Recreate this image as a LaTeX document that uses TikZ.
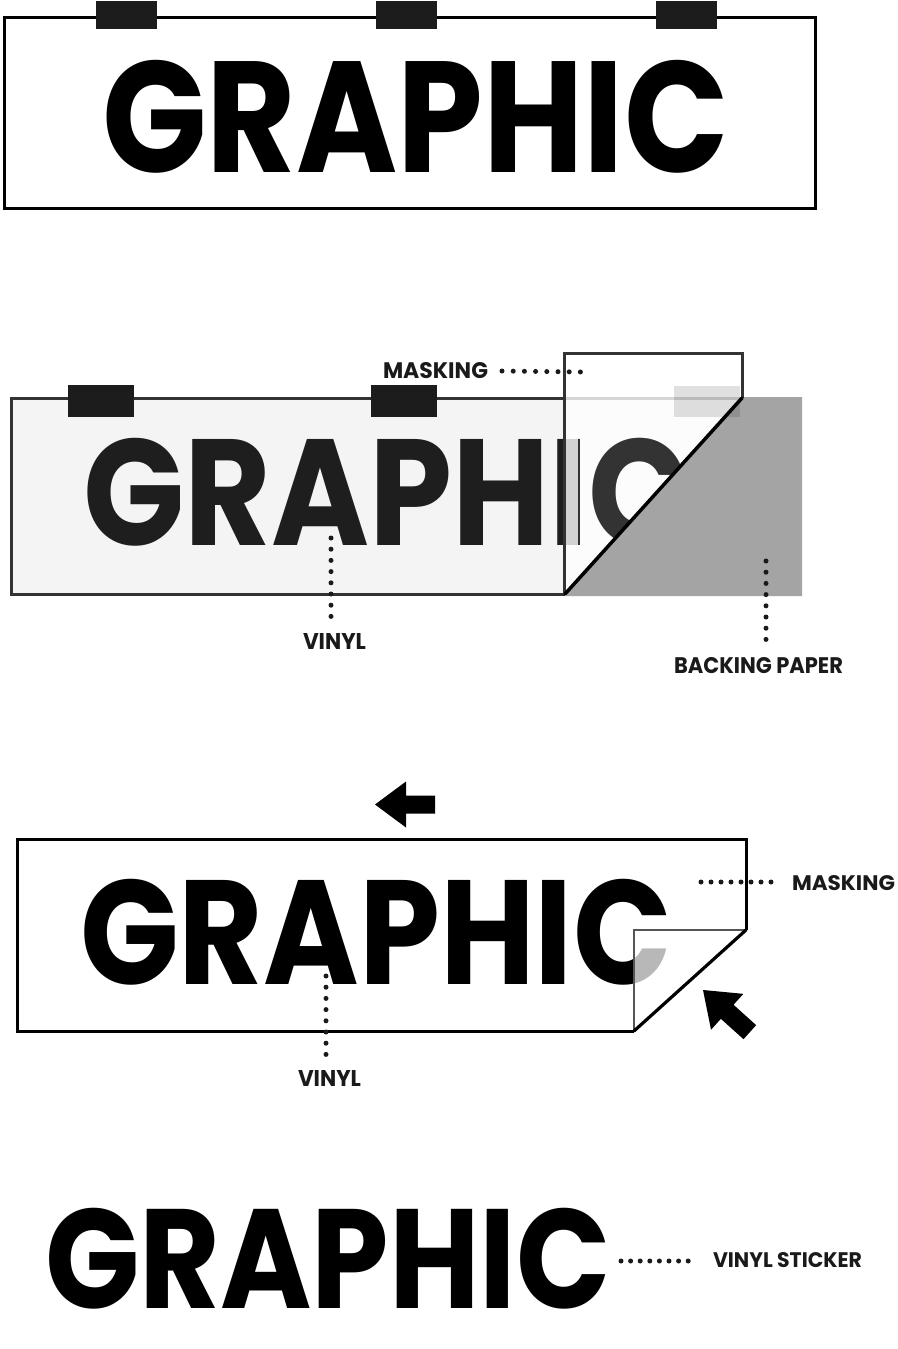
\documentclass[tikz,border=0pt]{standalone}
\usepackage{fontspec}
\setmainfont{Poppins}
\usepackage{graphicx}
\definecolor{clipc}{HTML}{1C1C1C}
\definecolor{vinylfill}{HTML}{F4F4F4}
\definecolor{edgetwo}{HTML}{333333}
\definecolor{backc}{HTML}{A4A4A4}
\definecolor{txttwo}{HTML}{1E1E1E}
\definecolor{cdark}{HTML}{333333}
\definecolor{foldedge}{HTML}{555555}
\definecolor{lbltxt}{HTML}{1A1A1A}
\newcommand\bigword[2]{\resizebox*{#1}{#2}{\bfseries GRAPHIC}}
\newcommand\lbltext[3]{\resizebox{#1}{#2}{\bfseries #3}}
\tikzset{
  every node/.style={inner sep=0pt, outer sep=0pt},
  dotline/.style={line width=5pt, line cap=round, dash pattern=on 0pt off #1, draw=lbltxt},
  dotline/.default=11.2pt,
  frame/.style={line width=3pt, line join=miter},
  clipbox/.style={fill=clipc},
  lbl/.style={text=lbltxt},
  bigarrow/.style={fill=black},
}
\begin{document}
\begin{tikzpicture}[x=1pt,y=-1pt]
\useasboundingbox (0,0) rectangle (897,1349);
\fill[white] (0,0) rectangle (897,1349);

% ---------- Panel 1 ----------
\draw[frame, draw=black, fill=white] (4,17) rectangle (815,208);
\fill[clipbox] (96,1) rectangle (157,29);
\fill[clipbox] (376,1) rectangle (437,29);
\fill[clipbox] (656,1) rectangle (717,29);
\node[anchor=north west] (g1) at (102,60) {\bigword{627pt}{113pt}};

% ---------- Panel 2 ----------
\fill[vinylfill] (11,398) -- (742,398) -- (565,594) -- (11,594) -- cycle;
\draw[frame, draw=edgetwo] (565,594) -- (11,594) -- (11,398) -- (742,398);
\fill[clipbox] (68,385) rectangle (134,417);
\fill[clipbox] (371,385) rectangle (437,417);
\node[anchor=north west, text=txttwo] (g2) at (83,438) {\bigword{607pt}{108pt}};
% backing paper
\fill[backc] (565,595) -- (742,398) -- (742,397) -- (802,397) -- (802,596) -- (565,596) -- cycle;
% masking sheet (translucent)
\fill[white, opacity=0.8] (564,353) -- (742,353) -- (742,398) -- (565,594) -- cycle;
\begin{scope}
  \clip (578,353) -- (742,353) -- (742,398) -- (578,579.6) -- cycle;
  \node[anchor=north west, text=cdark] (g2c) at (83,438) {\bigword{607pt}{108pt}};
\end{scope}
\fill[black, opacity=0.12] (674,386) rectangle (740,417);
\draw[frame, draw=edgetwo] (564,594) -- (564,353) -- (742,353) -- (742,398);
\draw[line width=3.5pt, line cap=round] (742,398) -- (565,594);

% labels panel 2
\node[anchor=west, lbl] (mask2) at (383,371) {\lbltext{105pt}{16pt}{MASKING}};
\coordinate (m2end) at (581.5,372);
\draw[dotline=11.2pt] ([xshift=14pt]mask2.east) -- (m2end);
\node[lbl] (vin2) at (334.5,641) {\lbltext{63pt}{16pt}{VINYL}};
\coordinate (v2top) at (331,538);
\draw[dotline] (v2top) -- ([yshift=15.5pt]v2top |- vin2.north);
\node[anchor=west, lbl] (back2) at (674,666) {\lbltext{169pt}{16pt}{BACKING PAPER}};
\coordinate (b2top) at (766,561);
\draw[dotline] (b2top) -- ([yshift=17pt]b2top |- back2.north);

% ---------- Panel 3 ----------
\fill[bigarrow, shift={(375,804.5)}] (0,0) -- (31,-23) -- (31,-9) -- (60,-9) -- (60,9) -- (31,9) -- (31,23) -- cycle;
\fill[white] (17,839) -- (746,839) -- (746,930) -- (634,1031) -- (17,1031) -- cycle;
\node[anchor=north west] (g3) at (80,879) {\bigword{592pt}{106pt}};
\fill[white, opacity=0.72] (634,930) -- (746,930) -- (634,1031) -- cycle;
\draw[line width=2.4pt, draw=foldedge] (746,930) -- (634,930) -- (634,1031);
\draw[frame, draw=black] (634,1031) -- (17,1031) -- (17,839) -- (746,839) -- (746,930);
\draw[line width=3.2pt, line cap=round] (746,930) -- (634,1031);
\fill[bigarrow, shift={(703,990)}, rotate=-42, scale=1.05] (0,0) -- (31,-23) -- (31,-9) -- (60,-9) -- (60,9) -- (31,9) -- (31,23) -- cycle;

% labels panel 3
\node[anchor=west, lbl] (mask3) at (792,883) {\lbltext{103pt}{15pt}{MASKING}};
\coordinate (m3start) at (701,882);
\draw[dotline=10pt] (m3start) -- ([xshift=-11.5pt]mask3.west |- m3start);
\node[lbl] (vin3) at (329.5,1078) {\lbltext{63pt}{16pt}{VINYL}};
\coordinate (v3top) at (326,976);
\draw[dotline] (v3top) -- ([yshift=14.5pt]v3top |- vin3.north);

% ---------- Panel 4 ----------
\node[anchor=north west] (g4) at (45,1208) {\bigword{566pt}{101pt}};
\node[anchor=west, lbl] (vst4) at (713,1260.5) {\lbltext{149pt}{15pt}{VINYL STICKER}};
\coordinate (s4start) at (621,1261);
\draw[dotline=9.6pt] (s4start) -- ([xshift=-15.5pt]vst4.west |- s4start);
\end{tikzpicture}
\end{document}
